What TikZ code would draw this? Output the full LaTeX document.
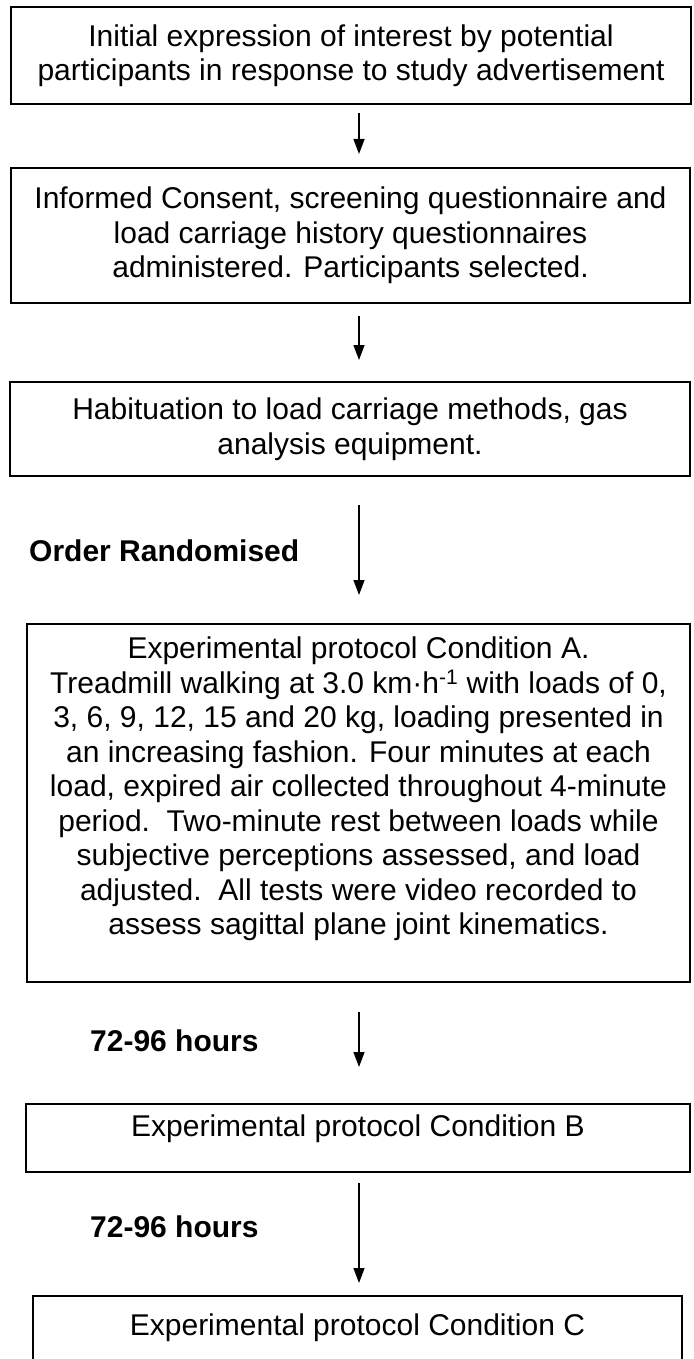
\documentclass[tikz,border=0pt]{standalone}
\usepackage{fontspec}
\setmainfont{Liberation Sans}
\usetikzlibrary{arrows.meta}

\begin{document}
\begin{tikzpicture}[x=1pt,y=-1pt,
  stage/.style={draw,line width=1.6pt,align=center,inner sep=0pt,font=\fontsize{30}{34.5}\selectfont},
  gaplabel/.style={anchor=base west,inner sep=0pt,font=\fontsize{30}{34.5}\selectfont\bfseries},
  flow/.style={line width=1.4pt,-{Triangle[length=15pt,width=11pt]}}]
\path[use as bounding box] (0,0) rectangle (693,1359);
% boxes
\node[stage,minimum width=680pt,minimum height=97pt] (interest) at (351,55.5) {Initial expression of interest by potential\\participants in response to study advertisement};
\node[stage,minimum width=679pt,minimum height=135pt] (consent) at (350.5,235.5) {Informed Consent, screening questionnaire and\\load carriage history questionnaires\\administered. Participants selected.};
\node[stage,minimum width=680pt,minimum height=94pt] (habit) at (350,429) {Habituation to load carriage methods, gas\\analysis equipment.};
\node[stage,minimum width=663pt,minimum height=358pt] (condA) at (358.5,803) {Experimental protocol Condition A.\\Treadmill walking at 3.0 km·h\textsuperscript{-1} with loads of 0,\\3, 6, 9, 12, 15 and 20 kg, loading presented in\\an increasing fashion. Four minutes at each\\load, expired air collected throughout 4-minute\\period.\ \ Two-minute rest between loads while\\subjective perceptions assessed, and load\\adjusted.\ \ All tests were video recorded to\\assess sagittal plane joint kinematics.\\\mbox{}};
\node[stage,minimum width=664pt,text height=33pt,text depth=35pt,anchor=north] (condB) at (358,1103) {Experimental protocol Condition B};
\node[stage,draw=none,minimum width=647pt,minimum height=62pt] (condC) at (357.5,1328) {Experimental protocol Condition C};
\draw[line width=1.6pt] (condC.south west) -- (condC.north west) -- (condC.north east) -- (condC.south east);
% arrows
\coordinate (f1a) at (359,113);
\coordinate (f1b) at (359,154);
\coordinate (f2a) at (359,316);
\coordinate (f2b) at (359,360);
\coordinate (f3a) at (359,505);
\coordinate (f3b) at (359,595);
\coordinate (f4a) at (359,1012);
\coordinate (f4b) at (359,1067);
\coordinate (f5a) at (359,1183);
\coordinate (f5b) at (359,1283);
\draw[flow] (f1a) -- (f1b);
\draw[flow] (f2a) -- (f2b);
\draw[flow] (f3a) -- (f3b);
\draw[flow] (f4a) -- (f4b);
\draw[flow] (f5a) -- (f5b);
% labels
\node[gaplabel] (order) at (29,561) {Order Randomised};
\node[gaplabel] (waitB) at (90,1051) {72-96 hours};
\node[gaplabel] (waitC) at (90,1237) {72-96 hours};
\end{tikzpicture}
\end{document}
